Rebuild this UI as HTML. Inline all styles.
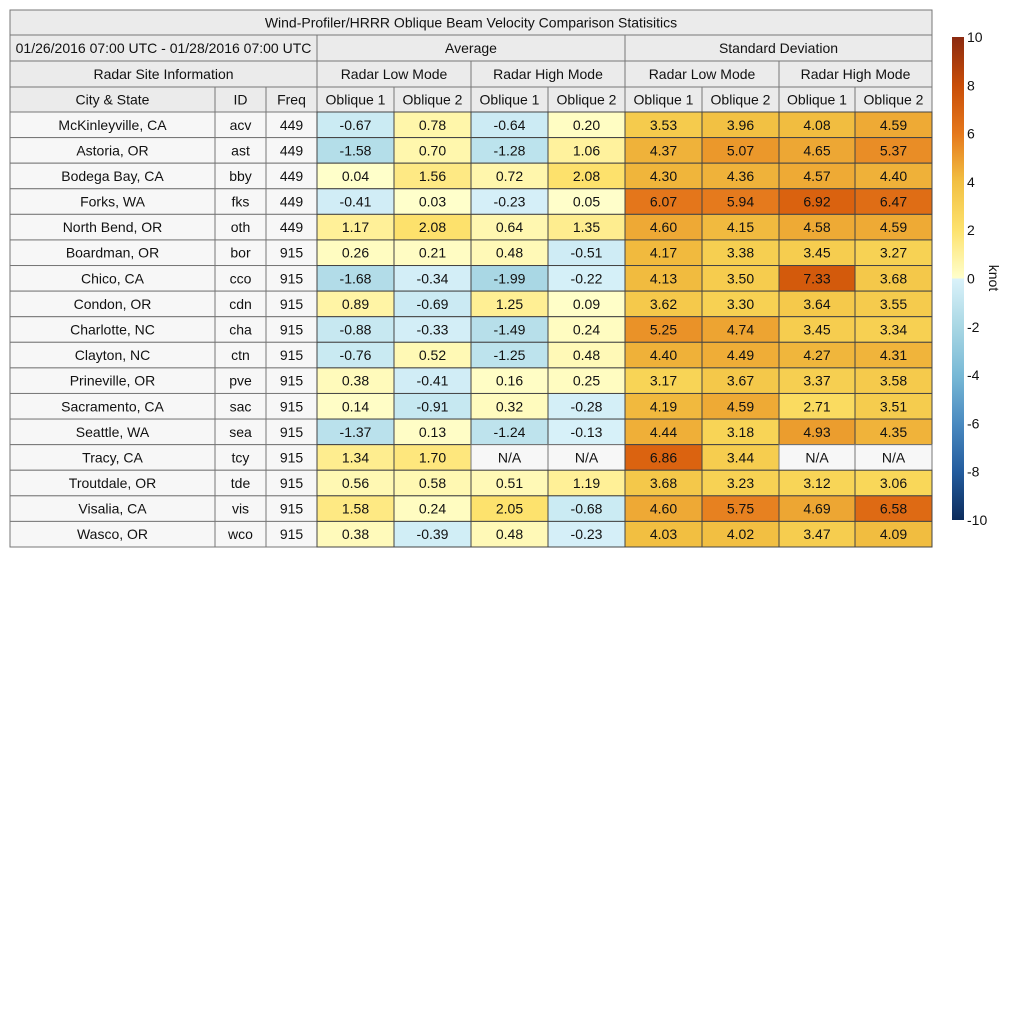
<!DOCTYPE html>
<html><head><meta charset="utf-8"><style>
body{margin:0;background:#fff;}
svg text{font-family:"Liberation Sans",sans-serif;font-size:14px;fill:#111;}
</style></head><body>
<svg id="s" width="1024" height="1024" xmlns="http://www.w3.org/2000/svg">
<defs><linearGradient id="cb" x1="0" y1="1" x2="0" y2="0">
<stop offset="0" stop-color="#0c2c5c"/><stop offset="0.1" stop-color="#235c9e"/><stop offset="0.2" stop-color="#4a8ac0"/><stop offset="0.3" stop-color="#78b9d6"/><stop offset="0.4" stop-color="#a9d7e4"/><stop offset="0.5" stop-color="#daf2fa"/><stop offset="0.5" stop-color="#ffffcc"/><stop offset="0.6" stop-color="#fde26e"/><stop offset="0.7" stop-color="#f2c042"/><stop offset="0.8" stop-color="#e5781c"/><stop offset="0.9" stop-color="#c84d08"/><stop offset="1" stop-color="#8b2a10"/>
</linearGradient></defs>
</svg>
<script>
const cities=["McKinleyville, CA","Astoria, OR","Bodega Bay, CA","Forks, WA","North Bend, OR","Boardman, OR","Chico, CA","Condon, OR","Charlotte, NC","Clayton, NC","Prineville, OR","Sacramento, CA","Seattle, WA","Tracy, CA","Troutdale, OR","Visalia, CA","Wasco, OR"];
const ids=["acv","ast","bby","fks","oth","bor","cco","cdn","cha","ctn","pve","sac","sea","tcy","tde","vis","wco"];
const freqs=[449,449,449,449,449,915,915,915,915,915,915,915,915,915,915,915,915];
const avgLow1=[-0.67,-1.58,0.04,-0.41,1.17,0.26,-1.68,0.89,-0.88,-0.76,0.38,0.14,-1.37,1.34,0.56,1.58,0.38];
const avgLow2=[0.78,0.70,1.56,0.03,2.08,0.21,-0.34,-0.69,-0.33,0.52,-0.41,-0.91,0.13,1.70,0.58,0.24,-0.39];
const avgHigh1=[-0.64,-1.28,0.72,-0.23,0.64,0.48,-1.99,1.25,-1.49,-1.25,0.16,0.32,-1.24,null,0.51,2.05,0.48];
const avgHigh2=[0.20,1.06,2.08,0.05,1.35,-0.51,-0.22,0.09,0.24,0.48,0.25,-0.28,-0.13,null,1.19,-0.68,-0.23];
const sdLow1=[3.53,4.37,4.30,6.07,4.60,4.17,4.13,3.62,5.25,4.40,3.17,4.19,4.44,6.86,3.68,4.60,4.03];
const sdLow2=[3.96,5.07,4.36,5.94,4.15,3.38,3.50,3.30,4.74,4.49,3.67,4.59,3.18,3.44,3.23,5.75,4.02];
const sdHigh1=[4.08,4.65,4.57,6.92,4.58,3.45,7.33,3.64,3.45,4.27,3.37,2.71,4.93,null,3.12,4.69,3.47];
const sdHigh2=[4.59,5.37,4.40,6.47,4.59,3.27,3.68,3.55,3.34,4.31,3.58,3.51,4.35,null,3.06,6.58,4.09];
const cbTicks=[10,8,6,4,2,0,-2,-4,-6,-8,-10];

const S=document.getElementById('s'),NS="http://www.w3.org/2000/svg";
function el(t,a,p){const e=document.createElementNS(NS,t);for(const k in a)e.setAttribute(k,a[k]);(p||S).appendChild(e);return e;}
const posStops=[[0,[255,255,204]],[1,[255,243,160]],[2,[253,226,110]],[3,[249,216,90]],[4,[242,192,66]],[5,[235,154,44]],[6,[229,120,28]],[7,[217,96,14]],[8,[200,77,8]],[10,[139,42,16]]];
const negStops=[[0,[218,242,250]],[1,[196,231,240]],[2,[169,215,228]],[4,[120,185,214]],[6,[74,138,192]],[8,[35,92,158]],[10,[12,44,92]]];
function color(v){const st=v>=0?posStops:negStops;const a=Math.min(Math.abs(v),10);
for(let i=0;i<st.length-1;i++){if(a<=st[i+1][0]){const t=(a-st[i][0])/(st[i+1][0]-st[i][0]);const c=st[i][1].map((x,j)=>Math.round(x+(st[i+1][1][j]-x)*t));return `rgb(${c})`;}}return `rgb(${st[st.length-1][1]})`;}
const cx=[10,215,266,317,394,471,548,625,702,779,855,932];
const hy=[10,35,61,87,112];const rowH=(547-112)/17;
const rowY=i=>112+i*rowH;
function cell(x0,x1,y0,y1,txt,fill,name,stroke){
 const g=el('g',{});
 
 
 el('rect',{x:x0,y:y0,width:x1-x0,height:y1-y0,fill:fill,stroke:stroke||'#777','stroke-width':1},g);
 const t=el('text',{x:(x0+x1)/2,y:(y0+y1)/2+5,'text-anchor':'middle'},g);t.textContent=txt;}
// headers
cell(10,932,10,35,"Wind-Profiler/HRRR Oblique Beam Velocity Comparison Statisitics","#ebebeb","table-title");
cell(10,317,35,61,"01/26/2016 07:00 UTC - 01/28/2016 07:00 UTC","#ebebeb","date-range-header");
cell(317,625,35,61,"Average","#ebebeb","average-header");
cell(625,932,35,61,"Standard Deviation","#ebebeb","std-dev-header");
cell(10,317,61,87,"Radar Site Information","#ebebeb","site-info-header");
cell(317,471,61,87,"Radar Low Mode","#ebebeb","avg-low-mode-header");
cell(471,625,61,87,"Radar High Mode","#ebebeb","avg-high-mode-header");
cell(625,779,61,87,"Radar Low Mode","#ebebeb","sd-low-mode-header");
cell(779,932,61,87,"Radar High Mode","#ebebeb","sd-high-mode-header");
const h4=["City & State","ID","Freq","Oblique 1","Oblique 2","Oblique 1","Oblique 2","Oblique 1","Oblique 2","Oblique 1","Oblique 2"];
h4.forEach((h,i)=>cell(cx[i],cx[i+1],87,112,h,"#ebebeb","column-header-"+i));
const series=[avgLow1,avgLow2,avgHigh1,avgHigh2,sdLow1,sdLow2,sdHigh1,sdHigh2];
const snames=["avg-low-ob1","avg-low-ob2","avg-high-ob1","avg-high-ob2","sd-low-ob1","sd-low-ob2","sd-high-ob1","sd-high-ob2"];
cities.forEach((c,r)=>{const y0=rowY(r),y1=rowY(r+1);
 cell(10,215,y0,y1,c,"#f7f7f7","city-"+ids[r]);
 cell(215,266,y0,y1,ids[r],"#f7f7f7","id-"+ids[r]);
 cell(266,317,y0,y1,String(freqs[r]),"#f7f7f7","freq-"+ids[r]);
 series.forEach((s,k)=>{const v=s[r];
  if(v===null)cell(cx[k+3],cx[k+4],y0,y1,"N/A","#f7f7f7",snames[k]+"-"+ids[r]);
  else cell(cx[k+3],cx[k+4],y0,y1,v.toFixed(2),color(v),snames[k]+"-"+ids[r],"#444");});
});
// colorbar
const cbTop=37,cbBot=520,cbX=952,cbW=12;
const cb=el('rect',{x:cbX,y:cbTop,width:cbW,height:cbBot-cbTop,fill:'url(#cb)'});


const cbScale=v=>cbBot-(v+10)/20*(cbBot-cbTop);
cbTicks.forEach(v=>{const t=el('text',{x:967,y:cbScale(v)+5});t.textContent=String(v);
 
 });
const kt=el('text',{x:0,y:0,transform:'translate(989,278) rotate(90)','text-anchor':'middle'});kt.textContent="knot";


</script>
</body></html>
